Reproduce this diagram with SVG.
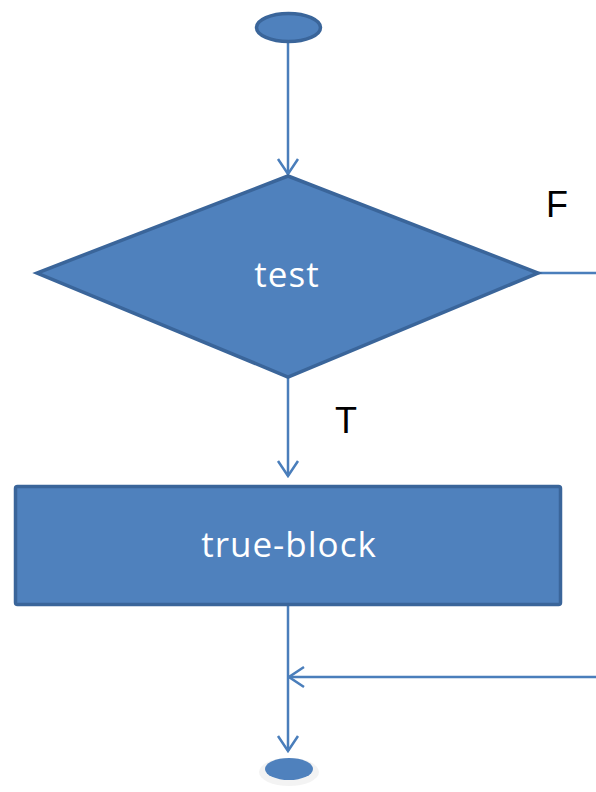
<svg xmlns="http://www.w3.org/2000/svg" width="596" height="792" viewBox="0 0 596 792">
  <style>
    .shape { fill: #4f81bd; stroke: #3a659a; stroke-width: 3.5; }
    .wire { fill: none; stroke: #4a7ebb; stroke-width: 2.5; }
    .label { font-family: "Open Sans", "Liberation Sans", sans-serif; fill: #ffffff; font-size: 35px; letter-spacing: 1px; text-anchor: middle; }
    .tag { font-family: "Liberation Sans", Arial, sans-serif; fill: #000000; font-size: 36px; text-anchor: middle; }
  </style>
  <defs>
    <marker id="open-arrow" viewBox="0 0 18 24" refX="16" refY="12" markerWidth="18" markerHeight="24" markerUnits="userSpaceOnUse" orient="auto">
      <path d="M1,2 L16,12 L1,22" fill="none" stroke="#4a7ebb" stroke-width="2.5"/>
    </marker>
  </defs>
  <rect width="596" height="792" fill="#ffffff"/>

  <g id="connectors">
    <line class="wire" x1="288" y1="42" x2="288" y2="174" marker-end="url(#open-arrow)"/>
    <line class="wire" x1="538" y1="273" x2="596" y2="273"/>
    <line class="wire" x1="288" y1="377" x2="288" y2="476" marker-end="url(#open-arrow)"/>
    <line class="wire" x1="288" y1="606" x2="288" y2="751" marker-end="url(#open-arrow)"/>
    <line class="wire" x1="596" y1="677" x2="289" y2="677" marker-end="url(#open-arrow)"/>
  </g>

  <g id="start">
    <ellipse class="shape" cx="288.5" cy="27.5" rx="32" ry="14"/>
  </g>

  <g id="test">
    <polygon class="shape" points="288,176 538,273 288,377 37,273"/>
    <text class="label" x="287" y="287">test</text>
  </g>

  <g id="label-false">
    <text class="tag" x="557" y="217">F</text>
  </g>

  <g id="label-true">
    <text class="tag" x="346" y="433">T</text>
  </g>

  <g id="true-block">
    <rect class="shape" x="15.5" y="486.5" width="545" height="118" rx="2"/>
    <text class="label" x="289" y="557">true-block</text>
  </g>

  <g id="end">
    <ellipse cx="289" cy="772" rx="30" ry="14" fill="#eeeeee" opacity="0.7"/>
    <ellipse cx="289" cy="769" rx="24" ry="11" fill="#4f81bd"/>
  </g>
</svg>
